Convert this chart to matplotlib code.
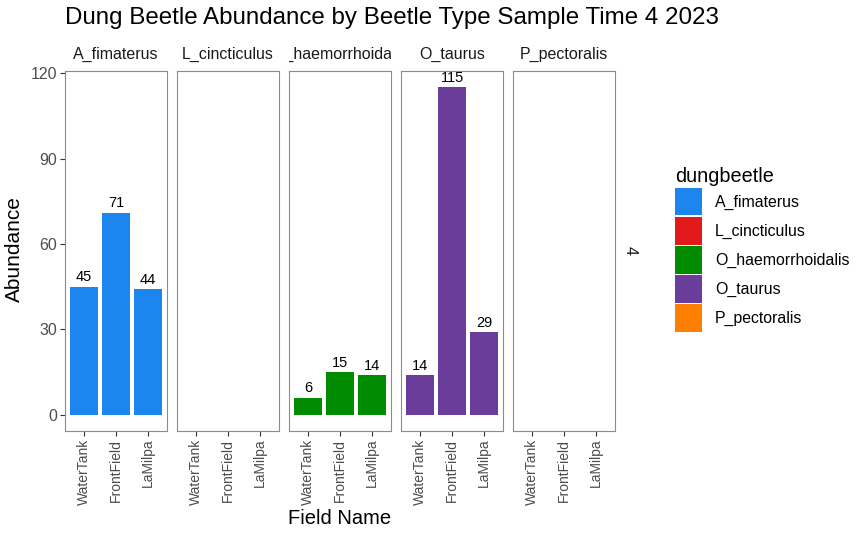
import matplotlib
matplotlib.use("Agg")
import matplotlib.pyplot as plt
from matplotlib.patches import Patch
from matplotlib.transforms import Bbox, TransformedBbox

plt.rcParams['font.family'] = ['Liberation Sans', 'DejaVu Sans']

beetles = ["A_fimaterus", "L_cincticulus", "O_haemorrhoidalis", "O_taurus", "P_pectoralis"]
fields = ["WaterTank", "FrontField", "LaMilpa"]
abundance = {
    "A_fimaterus": [45, 71, 44],
    "L_cincticulus": [None, None, None],
    "O_haemorrhoidalis": [6, 15, 14],
    "O_taurus": [14, 115, 29],
    "P_pectoralis": [None, None, None],
}
colors = ["#1C86EE", "#E31A1C", "#008B00", "#6A3D9A", "#FF7F00"]
yticks = [0, 30, 60, 90, 120]

W, H = 866, 537
fig = plt.figure(figsize=(W/100, H/100), dpi=100)

lefts = [65, 177, 289, 401, 513]
pw = 102
top, bottom = 71, 431
border = "#8c8c8c"
ymax = 115
ylim = (-0.05*ymax, ymax*1.05)

axes = []
for i, b in enumerate(beetles):
    ax = fig.add_axes([lefts[i]/W, 1-bottom/H, pw/W, (bottom-top)/H])
    axes.append(ax)
    vals = abundance[b]
    xs = [j+1 for j, v in enumerate(vals) if v is not None]
    vs = [v for v in vals if v is not None]
    if vs:
        ax.bar(xs, vs, width=0.9, color=colors[i], edgecolor='none')
        for x, v in zip(xs, vs):
            ax.text(x, v + 0.8, str(v), ha='center', va='bottom', fontsize=10.5, color='black')
    ax.set_xlim(0.4, 3.6)
    ax.set_ylim(*ylim)
    ax.set_xticks([1, 2, 3])
    ax.set_xticklabels(fields, rotation=90, fontsize=10, color='#4d4d4d')
    ax.tick_params(axis='x', length=3.5, color='#333333', width=0.8, pad=2)
    ax.set_yticks(yticks)
    if i == 0:
        ax.set_yticklabels([str(t) for t in yticks], fontsize=11.5, color='#4d4d4d')
        ax.tick_params(axis='y', length=3.5, color='#333333', width=0.8, pad=2)
    else:
        ax.tick_params(axis='y', left=False, labelleft=False)
    for s in ax.spines.values():
        s.set_color(border)
        s.set_linewidth(0.8)
    t = ax.text(0.5, 1.025, b, transform=ax.transAxes, ha='center', va='bottom',
                fontsize=11.5, color='#1a1a1a')
    t.set_clip_box(TransformedBbox(Bbox([[0, 1], [1, 1.2]]), ax.transAxes))
    t.set_clip_on(True)

# row strip
fig.text(630/W, 1-251/H, "4", rotation=-90, ha='center', va='center', fontsize=11.5, color='#1a1a1a')

fig.text(65/W, 1-18/H, "Dung Beetle Abundance by Beetle Type Sample Time 4 2023",
         ha='left', va='center', fontsize=17.4, color='black')
fig.text(14/W, 1-249/H, "Abundance", rotation=90, ha='center', va='center', fontsize=15)
fig.text(340/W, 1-519/H, "Field Name", ha='center', va='center', fontsize=14.5)

handles = [Patch(facecolor=c, edgecolor='none') for c in colors]
leg = fig.legend(handles, beetles, title="dungbeetle", loc='upper left',
                 bbox_to_anchor=(669/W, 1-161/H), frameon=False, fontsize=11.4,
                 title_fontsize=14.3, handlelength=1.7, handleheight=2.3,
                 labelspacing=0.1, handletextpad=0.8, borderaxespad=0)
leg._legend_box.align = "left"

fig.savefig("out.png", dpi=100)
